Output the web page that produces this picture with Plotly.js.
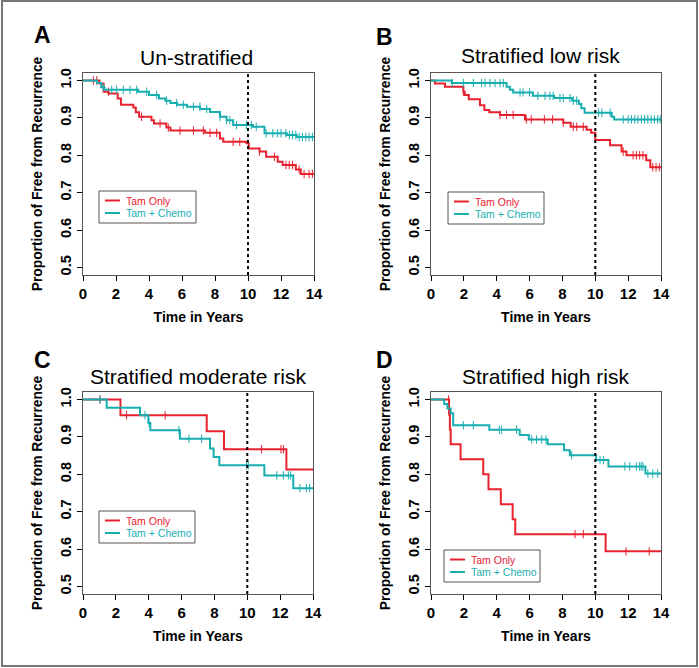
<!DOCTYPE html>
<html>
<head>
<meta charset="utf-8">
<script src="https://cdn.plot.ly/plotly-3.0.1.min.js"></script>
<style>
  html, body { margin: 0; padding: 0; background: #fff; }
  #chart { width: 699px; height: 668px; }
</style>
</head>
<body>
<div id="chart"></div>
<script>
// --- Data ---
// A: Un-stratified
const aTamT = [0, 1.0, 1.25, 1.55, 2.1, 2.3, 3.05, 3.2, 3.4, 4.15, 4.3, 5.05, 5.3, 7.4, 8.3, 8.5, 9.9, 10.05, 10.7, 11.1, 11.8, 12.1, 12.9, 13.2, 14];
const aTamS = [1.0, 0.992, 0.97, 0.965, 0.952, 0.935, 0.928, 0.915, 0.903, 0.894, 0.885, 0.874, 0.866, 0.86, 0.845, 0.836, 0.832, 0.818, 0.81, 0.796, 0.783, 0.774, 0.762, 0.75, 0.75];
const aTamC = [0.63, 0.83, 1.54, 3.55, 4.67, 5.17, 5.88, 6.69, 7.29, 7.7, 8.1, 9.1, 9.5, 10.7, 11.6, 12.3, 12.5, 12.7, 13.1, 13.4, 13.7, 13.9];
const aChT = [0, 0.85, 1.1, 1.3, 3.35, 4.0, 4.6, 5.0, 5.3, 5.7, 6.3, 7.1, 7.7, 8.3, 8.7, 9.1, 10.3, 11.0, 12.35, 12.95, 14];
const aChS = [1.0, 0.993, 0.982, 0.975, 0.97, 0.961, 0.952, 0.946, 0.94, 0.935, 0.93, 0.924, 0.916, 0.903, 0.894, 0.881, 0.876, 0.859, 0.854, 0.849, 0.849];
const aChC = [1.23, 1.74, 2.04, 2.44, 2.85, 3.25, 3.86, 4.47, 5.07, 5.68, 6.08, 6.69, 7.09, 7.5, 8.3, 8.7, 8.9, 9.3, 9.9, 10.2, 10.5, 11.1, 11.5, 11.8, 12.0, 12.3, 12.5, 12.7, 12.9, 13.1, 13.3, 13.5, 13.7, 13.9];

// B: Stratified low risk
const bTamT = [0, 0.24, 0.85, 1.97, 2.05, 2.3, 2.98, 3.25, 3.55, 4.2, 5.72, 8.05, 8.5, 9.47, 9.75, 10.0, 10.9, 11.6, 11.9, 13.1, 13.35, 14];
const bTamS = [1.0, 0.992, 0.983, 0.97, 0.961, 0.95, 0.934, 0.921, 0.915, 0.908, 0.896, 0.887, 0.876, 0.868, 0.86, 0.841, 0.827, 0.81, 0.8, 0.787, 0.768, 0.768];
const bTamC = [1.97, 4.2, 4.6, 5.0, 5.8, 6.1, 6.9, 7.4, 8.05, 8.66, 8.87, 9.27, 11.7, 12.3, 12.5, 12.7, 12.9, 13.5, 13.7, 13.9];
const bChT = [0, 1.26, 4.6, 4.8, 5.0, 6.2, 7.5, 8.6, 9.0, 9.15, 9.35, 11.0, 11.15, 14];
const bChS = [1.0, 0.993, 0.983, 0.975, 0.968, 0.959, 0.953, 0.946, 0.937, 0.926, 0.914, 0.903, 0.896, 0.896];
const bChC = [1.3, 1.97, 2.58, 3.08, 3.29, 3.59, 3.9, 4.2, 4.4, 5.42, 5.6, 6.0, 6.5, 6.94, 7.24, 7.44, 7.85, 8.05, 8.46, 8.66, 8.87, 10.2, 10.4, 10.9, 11.7, 12.0, 12.2, 12.4, 12.6, 12.8, 13.0, 13.2, 13.4, 13.6, 13.8, 13.95];

// C: Stratified moderate risk
const cTamT = [0, 2.28, 7.53, 8.58, 12.38, 14];
const cTamS = [1.0, 0.958, 0.915, 0.867, 0.813, 0.813];
const cTamC = [1.03, 2.65, 5.0, 10.87, 12.05, 12.2];
const cChT = [0, 1.44, 3.47, 3.98, 4.1, 5.9, 7.73, 7.95, 8.3, 11.04, 12.8, 14];
const cChS = [1.0, 0.978, 0.958, 0.937, 0.918, 0.895, 0.869, 0.846, 0.824, 0.797, 0.763, 0.763];
const cChC = [1.03, 3.77, 4.02, 5.84, 6.45, 7.22, 9.96, 10.06, 11.8, 12.2, 12.5, 12.64, 13.2, 13.6, 13.8];

// D: Stratified high risk
const dTamT = [0, 1.1, 1.15, 1.2, 1.8, 3.18, 3.5, 4.25, 4.97, 5.13, 10.63, 14];
const dTamS = [1.0, 0.96, 0.92, 0.88, 0.84, 0.80, 0.76, 0.72, 0.68, 0.64, 0.594, 0.594];
const dTamC = [1.07, 8.77, 9.27, 11.87, 13.28];
const dChT = [0, 0.8, 1.0, 1.2, 1.35, 3.55, 5.4, 5.95, 7.1, 8.1, 8.45, 10.05, 10.8, 13.05, 14];
const dChS = [1.0, 0.988, 0.976, 0.963, 0.931, 0.919, 0.905, 0.893, 0.88, 0.864, 0.851, 0.838, 0.821, 0.802, 0.802];
const dChC = [1.97, 2.58, 4.16, 4.3, 5.21, 6.13, 6.43, 6.74, 7.0, 8.56, 10.29, 10.49, 11.8, 12.1, 12.5, 12.7, 12.8, 12.9, 13.2, 13.5, 13.8];

const panelTitles = ['Un-stratified', 'Stratified low risk', 'Stratified moderate risk', 'Stratified high risk'];
const panelLetters = ['A', 'B', 'C', 'D'];
const groupNames = ['Tam Only', 'Tam + Chemo'];
const xTicks = [0, 2, 4, 6, 8, 10, 12, 14];
const yTicks = [0.5, 0.6, 0.7, 0.8, 0.9, 1.0];
const yTickText = ['0.5', '0.6', '0.7', '0.8', '0.9', '1.0'];
const cutoffYear = 10;

// --- Styling ---
const RED = '#e8212f';
const TEAL = '#17aeb0';
const FONT = 'Arial, "Liberation Sans", sans-serif';
const W = 699, H = 668;

// plot boxes in pixels [left, right, top, bottom]
const boxes = [
    [83, 314, 73, 275],
    [431, 661, 73, 275],
    [83, 313, 392, 594],
    [431, 661, 392, 594]
];
const titlePos = [[196, 58], [540, 55], [198, 376], [545, 376]];
const letterPos = [[42, 35], [385, 37], [42, 360], [385, 360]];
// legend boxes [left, top, right, bottom]
const legendBox = [[99, 191, 196, 223], [448, 192, 544, 224], [99, 511, 195, 543], [444, 550, 540, 582]];

const panels = [
    [aTamT, aTamS, aTamC, aChT, aChS, aChC],
    [bTamT, bTamS, bTamC, bChT, bChS, bChC],
    [cTamT, cTamS, cTamC, cChT, cChS, cChC],
    [dTamT, dTamS, dTamC, dChT, dChS, dChC]
];

// value of the step curve at time t
function stepAt(times, surv, t) {
    let v = surv[0];
    for (let i = 0; i < times.length; i++) {
        if (times[i] <= t) v = surv[i];
    }
    return v;
}

const px = v => v / W;
const py = v => 1 - v / H;

const traces = [];
const layout = {
    width: W, height: H,
    margin: { l: 0, r: 0, t: 0, b: 0 },
    paper_bgcolor: '#fff',
    plot_bgcolor: '#fff',
    font: { family: FONT, color: '#000' },
    showlegend: false,
    shapes: [],
    annotations: []
};

panels.forEach((p, i) => {
    const n = i + 1;
    const xa = n === 1 ? 'x' : 'x' + n;
    const ya = n === 1 ? 'y' : 'y' + n;
    const [l, r, t, b] = boxes[i];

    const groups = [
        { times: p[0], surv: p[1], cens: p[2], color: RED, name: groupNames[0] },
        { times: p[3], surv: p[4], cens: p[5], color: TEAL, name: groupNames[1] }
    ];

    groups.forEach((g, k) => {
        traces.push({
            x: g.times, y: g.surv,
            xaxis: xa, yaxis: ya,
            type: 'scatter', mode: 'lines',
            line: { color: g.color, width: 2, shape: 'hv' },
            name: g.name,
            hoverinfo: 'skip'
        });
        // censor marks
        traces.push({
            x: g.cens, y: g.cens.map(c => stepAt(g.times, g.surv, c)),
            xaxis: xa, yaxis: ya,
            type: 'scatter', mode: 'markers',
            marker: { symbol: 'line-ns-open', size: 6, color: g.color, line: { color: g.color, width: 1 } },
            name: g.name + ' censored',
            hoverinfo: 'skip'
        });

        // legend entry (drawn as in the reference: short line + coloured text)
        const [ll, lt] = legendBox[i];
        const ly = lt + 9.5 + k * 12.5;
        layout.shapes.push({
            type: 'line', xref: 'paper', yref: 'paper',
            x0: px(ll + 6), x1: px(ll + 21), y0: py(ly), y1: py(ly),
            line: { color: g.color, width: 2 }
        });
        layout.annotations.push({
            text: g.name, xref: 'paper', yref: 'paper',
            x: px(ll + 25), y: py(ly),
            xanchor: 'left', yanchor: 'middle', showarrow: false,
            font: { family: FONT, size: 10.5, color: g.color }
        });
    });

    const [bl, bt, br, bb] = legendBox[i];
    layout.shapes.push({
        type: 'rect', xref: 'paper', yref: 'paper',
        x0: px(bl), x1: px(br), y0: py(bb), y1: py(bt),
        line: { color: '#555', width: 1 }, fillcolor: 'rgba(0,0,0,0)'
    });

    layout['xaxis' + (n === 1 ? '' : n)] = {
        domain: [px(l), px(r)], anchor: ya,
        range: [0, 14], tickvals: xTicks,
        ticks: 'outside', ticklen: 5, tickcolor: '#000', tickwidth: 1,
        showline: true, mirror: true, linecolor: '#555', linewidth: 1,
        showgrid: false, zeroline: false, automargin: false,
        tickfont: { family: FONT, size: 15, color: '#000', weight: 'bold' },
        title: { text: '<b>Time in Years</b>', font: { family: FONT, size: 14, color: '#000' }, standoff: 11 }
    };
    layout['yaxis' + (n === 1 ? '' : n)] = {
        domain: [py(b), py(t)], anchor: xa,
        range: [0.48, 1.02], tickvals: yTicks, ticktext: yTickText,
        tickangle: -90,
        ticks: 'outside', ticklen: 5, tickcolor: '#000', tickwidth: 1,
        showline: true, mirror: true, linecolor: '#555', linewidth: 1,
        showgrid: false, zeroline: false, automargin: false,
        tickfont: { family: FONT, size: 14.5, color: '#000', weight: 'bold' },
        title: { text: '<b>Proportion of Free from Recurrence</b>', font: { family: FONT, size: 13.8, color: '#000' }, standoff: 12 }
    };

    // 10-year cut-off
    layout.shapes.push({
        type: 'line', xref: xa, yref: ya + ' domain',
        x0: cutoffYear, x1: cutoffYear, y0: 0, y1: 1,
        line: { color: '#000', width: 2, dash: 'dot' }
    });

    layout.annotations.push({
        text: panelTitles[i], xref: 'paper', yref: 'paper',
        x: px(titlePos[i][0]), y: py(titlePos[i][1]),
        xanchor: 'center', yanchor: 'middle', showarrow: false,
        font: { family: FONT, size: 21, color: '#000' }
    });
    layout.annotations.push({
        text: '<b>' + panelLetters[i] + '</b>', xref: 'paper', yref: 'paper',
        x: px(letterPos[i][0]), y: py(letterPos[i][1]),
        xanchor: 'center', yanchor: 'middle', showarrow: false,
        font: { family: FONT, size: 23, color: '#000' }
    });
});

// outer frame
layout.shapes.push({
    type: 'rect', xref: 'paper', yref: 'paper',
    x0: px(2), x1: px(697), y0: py(666), y1: py(1),
    line: { color: '#777', width: 2 }
});

Plotly.newPlot('chart', traces, layout, { displayModeBar: false, staticPlot: true });
</script>
</body>
</html>
